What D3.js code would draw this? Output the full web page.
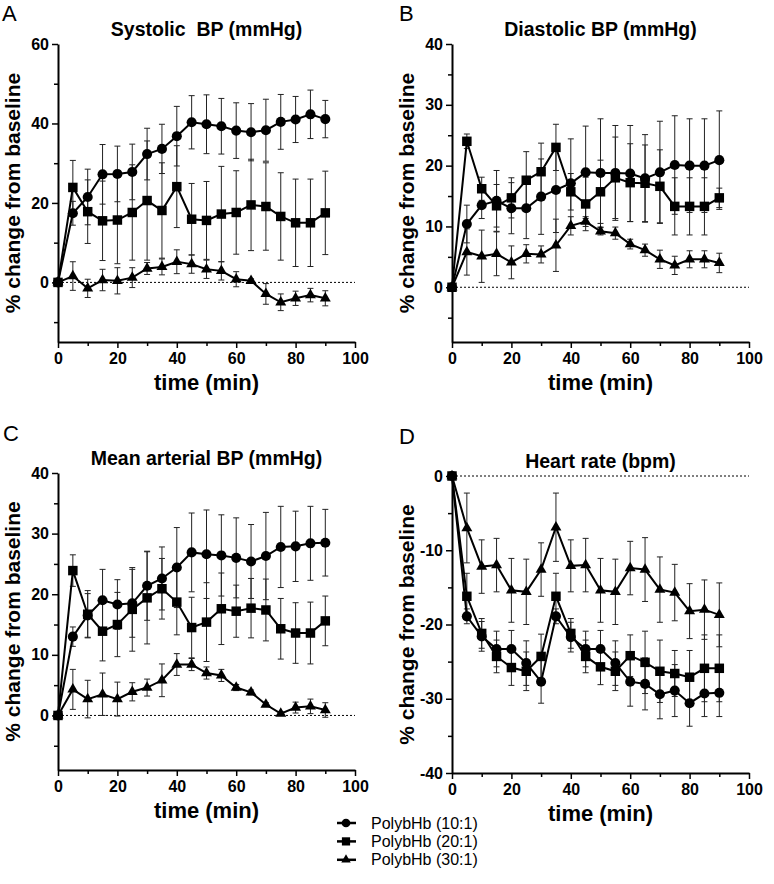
<!DOCTYPE html>
<html>
<head>
<meta charset="utf-8">
<title>PolybHb - % change from baseline</title>
<style>
body { margin: 0; background: #fff; }
svg { display: block; font-family: "Liberation Sans", Arial, sans-serif; }
.axis .domain { stroke: #000; stroke-width: 2px; }
.axis line { stroke: #000; stroke-width: 1.5px; }
.axis text { font-size: 16px; font-weight: bold; fill: #000; font-family: "Liberation Sans", Arial, sans-serif; }
.title { font-size: 19.5px; font-weight: bold; white-space: pre; }
.ylabel { font-size: 21px; font-weight: bold; }
.xlabel { font-size: 22px; font-weight: bold; }
.letter { font-size: 22px; }
.legend text { font-size: 16px; }
</style>
</head>
<body>
<svg width="774" height="884"></svg>
<script src="https://cdnjs.cloudflare.com/ajax/libs/d3/7.8.5/d3.min.js"></script>
<script>
// time points (min)
var time = [0, 5, 10, 15, 20, 25, 30, 35, 40, 45, 50, 55, 60, 65, 70, 75, 80, 85, 90];
var seriesNames = ["PolybHb (10:1)", "PolybHb (20:1)", "PolybHb (30:1)"];

// A - systolic BP
var sbp10 = [0, 17.4, 21.5, 27.2, 27.3, 27.8, 32.3, 33.6, 36.8, 40.3, 39.8, 39.3, 38.2, 37.8, 38.3, 40.4, 41.0, 42.3, 41.1];
var sbp10Err = [0, 3, 7, 7.5, 7, 7, 6.5, 6.2, 7.5, 6.7, 7.4, 7, 7, 7.2, 7.8, 6.9, 5.8, 6.1, 4.7];
var sbp20 = [0, 23.9, 17.8, 15.5, 15.7, 17.6, 20.6, 18.1, 24.1, 15.9, 15.6, 17.2, 17.6, 19.5, 19.1, 16.6, 15.0, 15.0, 17.5];
var sbp20Err = [0, 6.8, 8, 10, 11, 12, 15, 12, 10.3, 9, 9.8, 12, 10.5, 11.5, 11, 11, 11, 11, 10.5];
var sbp30 = [0, 1.6, -1.5, 0.6, 0.4, 1.2, 3.5, 3.9, 5.2, 4.6, 3.3, 2.9, 0.8, 0.4, -2.9, -5.0, -4.0, -3.2, -4.0];
var sbp30Err = [0, 3.6, 2.3, 2.7, 3.3, 2.5, 1.5, 2, 3, 2.3, 2.3, 2.3, 1.9, 0.5, 2.6, 2.1, 1.8, 1.7, 1.9];

// B - diastolic BP
var dbp10 = [0, 10.4, 13.5, 14.2, 13.0, 13.0, 14.9, 16.0, 17.1, 18.9, 18.8, 18.8, 18.7, 17.9, 18.9, 20.1, 20.0, 20.0, 20.9];
var dbp10Err = [0, 3.1, 2.2, 5, 4.2, 5, 6.2, 7, 7.3, 7.6, 8.9, 7.8, 7.9, 7.2, 8.4, 8.1, 7.7, 7.7, 8.1];
var dbp20 = [0, 24.0, 16.2, 13.4, 14.7, 17.6, 19.0, 23.0, 15.7, 13.7, 15.7, 18.0, 17.2, 17.1, 16.6, 13.3, 13.3, 13.3, 14.7];
var dbp20Err = [0, 1.2, 1.9, 3.5, 3.3, 4.7, 4.7, 3.8, 3, 4.4, 5.2, 6.7, 6.4, 6.3, 6, 4.7, 4.7, 4.7, 1.6];
var dbp30 = [0, 5.8, 5.1, 5.5, 4.1, 5.5, 5.4, 6.9, 10.1, 10.8, 9.2, 8.9, 7.1, 6.1, 4.6, 3.6, 4.6, 4.6, 4.0];
var dbp30Err = [0, 3.8, 4.3, 3.6, 2.7, 1.5, 1.4, 4.3, 1.5, 0.8, 0.6, 1, 0.8, 1, 1.5, 1.5, 1.4, 1.4, 1.6];

// C - mean arterial BP
var map10 = [0, 13.0, 16.5, 19.0, 18.3, 18.5, 21.4, 22.6, 24.4, 26.9, 26.6, 26.4, 26.0, 25.4, 26.3, 27.8, 27.9, 28.4, 28.5];
var map10Err = [0, 1.6, 3.6, 5.1, 4.1, 5.6, 5.7, 5.2, 6.6, 6.5, 7.3, 6.7, 6.6, 6.1, 7.2, 6.7, 5.8, 6.1, 5.5];
var map20 = [0, 23.9, 16.7, 13.9, 15.0, 17.5, 19.4, 20.9, 18.7, 14.5, 15.4, 17.6, 17.2, 17.7, 17.4, 14.3, 13.6, 13.6, 15.6];
var map20Err = [0, 2.6, 3.9, 4.9, 5.3, 6.9, 7.6, 5, 5.4, 5, 6.5, 5.9, 4.3, 4.9, 5.1, 5, 5, 5.1, 4.1];
var map30 = [0, 4.3, 2.7, 3.5, 2.7, 3.9, 4.6, 5.8, 8.4, 8.4, 7.0, 6.6, 4.6, 3.8, 1.8, 0.3, 1.3, 1.5, 0.9];
var map30Err = [0, 3.3, 3.1, 3.5, 2.8, 1.5, 1.4, 2.7, 1.8, 1.0, 1.0, 1.0, 0.5, 0.4, 0.3, 0.3, 0.9, 1.2, 1.2];

// D - heart rate
var hr10 = [0, -18.9, -21.6, -23.3, -23.3, -25.2, -27.7, -18.9, -21.7, -23.3, -23.3, -25.2, -27.7, -28.0, -29.4, -28.9, -30.6, -29.3, -29.2];
var hr10Err = [0, 1, 2, 2.4, 2.5, 3, 2.9, 1, 2, 2.4, 2.5, 3, 3.3, 3.5, 3.3, 3.5, 3.1, 3.1, 3.2];
var hr20 = [0, -16.2, -21.2, -24.3, -25.8, -26.3, -24.3, -16.2, -21.2, -24.3, -25.7, -26.3, -24.2, -25.1, -26.3, -26.6, -27.1, -25.9, -25.9];
var hr20Err = [0, 3.1, 2, 2.2, 2.4, 2.6, 3, 3.1, 2, 2.2, 2.4, 2.6, 2.8, 4.2, 4.2, 3.1, 3.6, 4.5, 4.5];
var hr30 = [0, -7.0, -12.2, -12.0, -15.4, -15.6, -12.6, -6.9, -12.1, -12.0, -15.4, -15.6, -12.4, -12.6, -15.3, -15.7, -18.2, -18.0, -18.7];
var hr30Err = [0, 4.7, 3.6, 3.6, 4.3, 4.4, 3.6, 4.6, 3.5, 3.6, 4.3, 4.4, 3.6, 4.3, 4.4, 3.8, 3.7, 4.0, 4.3];

var xMajor = [0, 20, 40, 60, 80, 100];
var xMinor = [10, 30, 50, 70, 90];

(function() {
  var svg = d3.select("svg");
  var symbols = [d3.symbolCircle, d3.symbolSquare, d3.symbolTriangle];
  var symSize = [80, 90, 52];

  var panels = [
    {letter: "A", lx: 2, ly: 21, title: "Systolic  BP (mmHg)", left: 58, top: 44, width: 297, height: 298,
     yDomain: [-15, 60], yMajor: [0, 20, 40, 60], yMinor: [-10, 10, 30, 50],
     vals: [sbp10, sbp20, sbp30], errs: [sbp10Err, sbp20Err, sbp30Err]},
    {letter: "B", lx: 399, ly: 21, title: "Diastolic BP (mmHg)", left: 452, top: 44, width: 297, height: 298,
     yDomain: [-9, 40], yMajor: [0, 10, 20, 30, 40], yMinor: [-5, 5, 15, 25, 35],
     vals: [dbp10, dbp20, dbp30], errs: [dbp10Err, dbp20Err, dbp30Err]},
    {letter: "C", lx: 3, ly: 441, title: "Mean arterial BP (mmHg)", left: 58, top: 473, width: 297, height: 297,
     yDomain: [-9, 40], yMajor: [0, 10, 20, 30, 40], yMinor: [-5, 5, 15, 25, 35],
     vals: [map10, map20, map30], errs: [map10Err, map20Err, map30Err]},
    {letter: "D", lx: 399, ly: 444, title: "Heart rate (bpm)", left: 452, top: 476, width: 297, height: 297,
     yDomain: [-40, 0], yMajor: [0, -10, -20, -30, -40], yMinor: [-5, -15, -25, -35],
     vals: [hr10, hr20, hr30], errs: [hr10Err, hr20Err, hr30Err]}
  ];

  panels.forEach(function(p) {
    svg.append("text").attr("class", "letter")
      .attr("x", p.lx).attr("y", p.ly).text(p.letter);

    var g = svg.append("g").attr("transform", "translate(" + p.left + "," + p.top + ")");
    var x = d3.scaleLinear().domain([0, 100]).range([0, p.width]);
    var y = d3.scaleLinear().domain(p.yDomain).range([p.height, 0]);

    // dotted baseline
    g.append("line")
      .attr("x1", x(0)).attr("x2", x(100))
      .attr("y1", y(0)).attr("y2", y(0))
      .attr("stroke", "#000").attr("stroke-width", 1)
      .attr("stroke-dasharray", "2,2");

    // axes
    g.append("g").attr("class", "axis")
      .attr("transform", "translate(0," + p.height + ")")
      .call(d3.axisBottom(x).tickValues(xMajor).tickSize(6).tickSizeOuter(0).tickPadding(5)
        .tickFormat(function(d) { return String(d); }));
    g.append("g").attr("class", "axis")
      .attr("transform", "translate(0," + p.height + ")")
      .call(d3.axisBottom(x).tickValues(xMinor).tickSize(4).tickFormat(""))
      .select(".domain").remove();

    g.append("g").attr("class", "axis")
      .call(d3.axisLeft(y).tickValues(p.yMajor).tickSize(6).tickSizeOuter(0).tickPadding(3)
        .tickFormat(function(d) { return String(d); }));
    g.append("g").attr("class", "axis")
      .call(d3.axisLeft(y).tickValues(p.yMinor).tickSize(4).tickFormat(""))
      .select(".domain").remove();

    // error bars
    p.vals.forEach(function(vals, s) {
      var errs = p.errs[s];
      var eb = g.append("g").attr("stroke", "#222").attr("stroke-width", 1);
      time.forEach(function(t, i) {
        if (!errs[i]) return;
        var lo = y(vals[i] - errs[i]), hi = y(vals[i] + errs[i]), cx = x(t);
        eb.append("line").attr("x1", cx).attr("x2", cx).attr("y1", lo).attr("y2", hi);
        eb.append("line").attr("x1", cx - 3).attr("x2", cx + 3).attr("y1", lo).attr("y2", lo);
        eb.append("line").attr("x1", cx - 3).attr("x2", cx + 3).attr("y1", hi).attr("y2", hi);
      });
    });

    // lines + markers
    p.vals.forEach(function(vals, s) {
      var line = d3.line()
        .x(function(d, i) { return x(time[i]); })
        .y(function(d) { return y(d); });
      g.append("path").datum(vals)
        .attr("fill", "none").attr("stroke", "#000").attr("stroke-width", 2)
        .attr("d", line);
      g.append("g").selectAll("path")
        .data(vals)
        .enter().append("path")
          .attr("transform", function(d, i) { return "translate(" + x(time[i]) + "," + y(d) + ")"; })
          .attr("d", d3.symbol().type(symbols[s]).size(symSize[s]))
          .attr("fill", "#000");
    });

    // titles
    g.append("text").attr("class", "title")
      .attr("x", p.width / 2).attr("y", -8)
      .attr("text-anchor", "middle")
      .text(p.title);
    g.append("text").attr("class", "xlabel")
      .attr("x", p.width / 2).attr("y", p.height + 48)
      .attr("text-anchor", "middle")
      .text("time (min)");
    g.append("text").attr("class", "ylabel")
      .attr("transform", "translate(-45," + (p.height / 2) + ") rotate(-90)")
      .attr("dy", "0.35em")
      .attr("text-anchor", "middle")
      .text("% change from baseline");
  });

  // legend
  var legend = svg.append("g").attr("class", "legend")
    .selectAll("g")
    .data(seriesNames)
    .enter().append("g")
      .attr("transform", function(d, i) { return "translate(346," + (823 + i * 18.4) + ")"; });
  legend.append("line")
    .attr("x1", -9).attr("x2", 10).attr("y1", 0).attr("y2", 0)
    .attr("stroke", "#000").attr("stroke-width", 2.5);
  legend.append("path")
    .attr("d", function(d, i) { return d3.symbol().type(symbols[i]).size(symSize[i] * 0.75)(); })
    .attr("fill", "#000");
  legend.append("text")
    .attr("x", 25).attr("y", 0).attr("dy", "0.35em")
    .text(function(d) { return d; });
})();
</script>
</body>
</html>
